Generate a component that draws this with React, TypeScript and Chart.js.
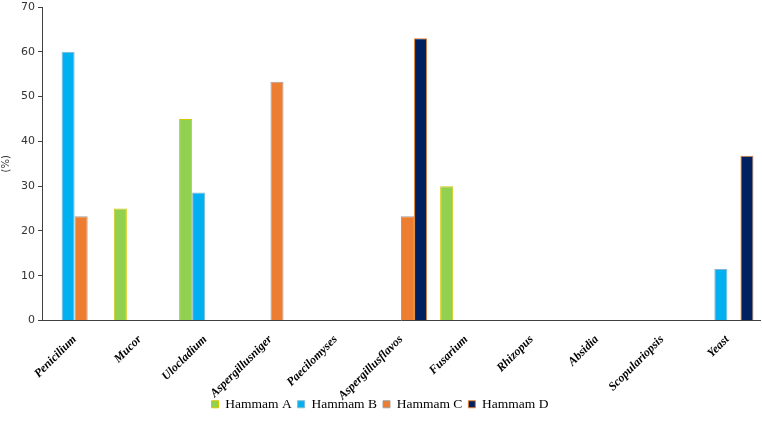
import React, { useEffect, useRef } from "react";
import { Chart, registerables } from "chart.js";

Chart.register(...registerables);

const categories = [
  "Penicilium",
  "Mucor",
  "Ulocladium",
  "Aspergillusniger",
  "Paecilomyses",
  "Aspergillusflavos",
  "Fusarium",
  "Rhizopus",
  "Absidia",
  "Scopulariopsis",
  "Yeast",
];

const hammamA = [null, 25, 45, null, null, null, 30, null, null, null, null];
const hammamB = [60, null, 28.6, null, null, null, null, null, null, null, 11.5];
const hammamC = [23.3, null, null, 53.3, null, 23.3, null, null, null, null, null];
const hammamD = [null, null, null, null, null, 63, null, null, null, null, 36.8];

const seriesNames = ["Hammam A", "Hammam B", "Hammam C", "Hammam D"];
const fillColors = ["#92D050", "#00B0F0", "#ED7D31", "#002060"];
const edgeColors = ["#D4C800", "#7FB8D0", "#A0A0A0", "#E08030"];

export default function App() {
  const ref = useRef<HTMLCanvasElement | null>(null);

  useEffect(() => {
    document.body.style.margin = "0";
    if (!ref.current) return;
    const values = [hammamA, hammamB, hammamC, hammamD];
    const chart = new Chart(ref.current, {
      type: "bar",
      data: {
        labels: categories,
        datasets: values.map((d, i) => ({
          label: seriesNames[i],
          data: d,
          backgroundColor: fillColors[i],
          borderColor: edgeColors[i],
          borderWidth: 1,
          categoryPercentage: 0.8,
          barPercentage: 1,
        })),
      },
      options: {
        animation: false,
        responsive: false,
        maintainAspectRatio: false,
        layout: { padding: { top: 7, right: 2, left: 0, bottom: 3 } },
        plugins: {
          tooltip: { enabled: false },
          legend: {
            position: "bottom",
            labels: {
              boxWidth: 7,
              boxHeight: 7,
              padding: 6,
              color: "#000",
              font: { family: "Liberation Serif", size: 13.5 },
            },
          },
        },
        scales: {
          x: {
            afterFit: (s: any) => {
              s.height = 71;
              s._computeLabelArea = () => undefined;
            },
            grid: { display: false },
            border: { display: true, color: "#404040", width: 1 },
            ticks: {
              minRotation: 45,
              maxRotation: 45,
              color: "#000",
              padding: 4,
              font: { family: "Liberation Serif", size: 12, weight: "bold", style: "italic" },
            },
          },
          y: {
            min: 0,
            max: 70,
            afterFit: (s: any) => {
              s.width = 42;
              s.paddingTop = 0;
              s.paddingBottom = 0;
            },
            grid: { drawOnChartArea: false, drawTicks: true, tickLength: 4, color: "#404040" },
            border: { display: true, color: "#404040", width: 1 },
            title: {
              display: true,
              text: "(%)",
              color: "#333",
              padding: { top: 0, bottom: 2 },
              font: { family: "DejaVu Sans", size: 10 },
            },
            ticks: {
              stepSize: 10,
              color: "#333",
              padding: 3,
              font: { family: "DejaVu Sans", size: 11 },
            },
          },
        },
      },
    });
    return () => chart.destroy();
  }, []);

  return <canvas ref={ref} width={762} height={424} style={{ display: "block" }} />;
}
